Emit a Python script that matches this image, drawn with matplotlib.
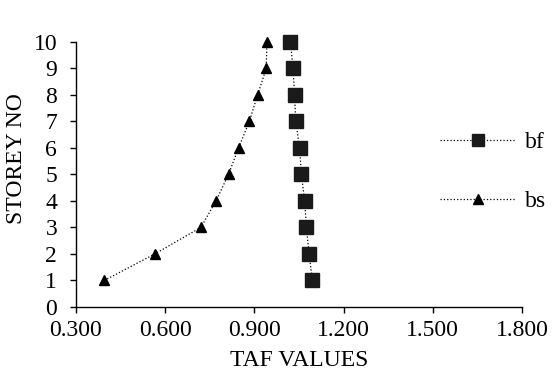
import matplotlib
matplotlib.use("Agg")
import matplotlib.pyplot as plt
import numpy as np

# storey numbers and TAF values
storey = [1, 2, 3, 4, 5, 6, 7, 8, 9, 10]
bf = [1.095, 1.084, 1.075, 1.069, 1.058, 1.052, 1.039, 1.035, 1.030, 1.021]
bs = [0.395, 0.565, 0.720, 0.771, 0.813, 0.847, 0.883, 0.911, 0.940, 0.942]

x_ticks = [0.3, 0.6, 0.9, 1.2, 1.5, 1.8]
y_ticks = list(range(0, 11))

plt.rcParams['font.family'] = ['Liberation Serif', 'DejaVu Serif']

W, H = 559, 383
fig = plt.figure(figsize=(W / 100, H / 100), dpi=100)
# axes box in pixels: x 76..522, y(0) at 307, y(10) at 41.7
ax = fig.add_axes([76 / W, 1 - 307 / H, (522 - 76) / W, (307 - 41.7) / H])

ax.plot(bf, storey, linestyle=':', color='black', linewidth=0.9,
        marker='s', markersize=9.5, markerfacecolor='#1a1a1a',
        markeredgecolor='#1a1a1a', label='bf', clip_on=False)
ax.plot(bs, storey, linestyle=':', color='black', linewidth=0.9,
        marker='^', markersize=7.5, markerfacecolor='black',
        markeredgecolor='black', label='bs', clip_on=False)

ax.set_xlim(0.3, 1.8)
ax.set_ylim(0, 10)
ax.set_xticks(x_ticks)
ax.set_xticklabels(['%.3f' % v for v in x_ticks])
ax.set_yticks(y_ticks)

for s in ['top', 'right']:
    ax.spines[s].set_visible(False)
ax.spines['left'].set_linewidth(1.0)
ax.spines['bottom'].set_linewidth(1.0)
ax.tick_params(direction='out', length=4.5, width=1.0, labelsize=17)
ax.tick_params(axis='y', pad=9)
ax.tick_params(axis='x', pad=5)

ax.set_xlabel('TAF VALUES', fontsize=17)
ax.set_ylabel('STOREY NO', fontsize=17)
ax.xaxis.set_label_coords(0.5, -0.163)
ax.yaxis.set_label_coords(-0.11, 0.56)

leg = ax.legend(loc='center left', bbox_to_anchor=(440 / W, 1 - 172 / H),
                bbox_transform=fig.transFigure, frameon=False, fontsize=17,
                handlelength=3.2, handletextpad=0.4, labelspacing=1.6,
                borderpad=0, borderaxespad=0, markerscale=0.9)

fig.savefig('out.png', dpi=100)
